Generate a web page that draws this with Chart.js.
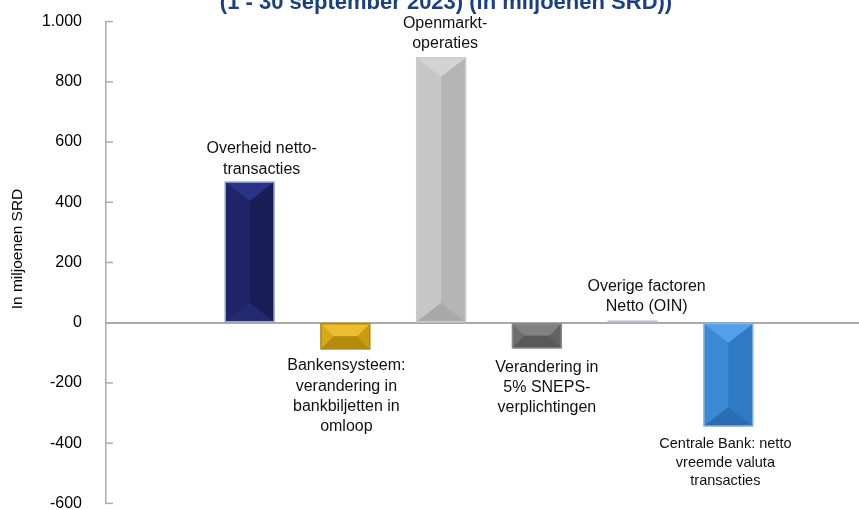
<!DOCTYPE html>
<html>
<head>
<meta charset="utf-8">
<script src="https://cdn.jsdelivr.net/npm/chart.js@4.4.0/dist/chart.umd.min.js"></script>
<style>
  body { margin: 0; background: #fff; }
  #wrap { position: relative; width: 859px; height: 510px; overflow: hidden; }
  #chart { position: absolute; left: 0; top: -12px; }
</style>
</head>
<body>
<div id="wrap"><canvas id="chart" width="872" height="549"></canvas></div>
<script>
// data (first and last slot are empty categories)
const categories = [
  [],
  ["Overheid netto-", "transacties"],
  ["Bankensysteem:", "verandering in", "bankbiljetten in", "omloop"],
  ["Openmarkt-", "operaties"],
  ["Verandering in", "5% SNEPS-", "verplichtingen"],
  ["Overige factoren", "Netto (OIN)"],
  ["Centrale Bank: netto", "vreemde valuta", "transacties"],
  []
];
const values = [null, 467, -87, 880, -84, 5, -343, null];
const yTicks = [-600, -400, -200, 0, 200, 400, 600, 800, 1000];
const yTickLabels = ["-600", "-400", "-200", "0", "200", "400", "600", "800", "1.000"];
const titleText = "(1 - 30 september 2023) (in miljoenen SRD))";
const yAxisTitle = "In miljoenen SRD";

// canvas sits 12px above the page top
const SHIFT = 12;

// bevel colours for each bar
const barStyles = [
  null,
  { top: "#2b3384", left: "#1f2569", right: "#181d57", bottom: "#232a70", edge: "#9aa2c4" },
  { top: "#ecbd2c", left: "#d6a91b", right: "#c99c14", bottom: "#b58b0e", edge: "#b08a12" },
  { top: "#d3d3d3", left: "#c6c6c6", right: "#b5b5b5", bottom: "#a9a9a9", edge: "#cbcbcb" },
  { top: "#828282", left: "#6d6d6d", right: "#636363", bottom: "#595959", edge: "#8a8a8a" },
  { top: "#b9c4d1", left: "#b9c4d1", right: "#b9c4d1", bottom: "#b9c4d1", edge: "#b9c4d1" },
  { top: "#53a1ea", left: "#3b88d4", right: "#3079c3", bottom: "#2b6db4", edge: "#80b0e0" },
  null
];

// where each text block sits relative to its bar (dx from bar centre, gap from bar end)
const labelPlace = [
  null,
  { dx: 12, gap: 13, lh: 20.5, size: 16 },
  { dx: 1, gap: 17, lh: 20.3, size: 16 },
  { dx: 4, gap: 14, lh: 20.5, size: 16 },
  { dx: 10, gap: 20, lh: 20, size: 16 },
  { dx: 14, gap: 15, lh: 20, size: 16 },
  { dx: -3, gap: 18, lh: 18.5, size: 14.5 },
  null
];

const FONT = "'Liberation Sans', Arial, sans-serif";

function face(ctx, pts, color) {
  ctx.beginPath();
  ctx.moveTo(pts[0][0], pts[0][1]);
  for (let k = 1; k < pts.length; k++) ctx.lineTo(pts[k][0], pts[k][1]);
  ctx.closePath();
  ctx.fillStyle = color;
  ctx.fill();
}

const bevelPlugin = {
  id: "bevel",
  afterDatasetsDraw(chart) {
    const ctx = chart.ctx;
    const meta = chart.getDatasetMeta(0);
    meta.data.forEach((bar, i) => {
      const s = barStyles[i];
      if (!s || values[i] == null) return;
      const p = bar.getProps(["x", "y", "base", "width"], true);
      const l = p.x - p.width / 2, r = p.x + p.width / 2;
      const t = Math.min(p.y, p.base), b = Math.max(p.y, p.base);
      const h = b - t;
      ctx.save();
      if (h > 6) {
        const dv = Math.min(19, h / 2);
        const dh = h > 40 ? p.width / 2 : dv;
        face(ctx, [[l, t], [l + dh, t + dv], [l + dh, b - dv], [l, b]], s.left);
        face(ctx, [[r, t], [r - dh, t + dv], [r - dh, b - dv], [r, b]], s.right);
        if (dh < p.width / 2) {
          face(ctx, [[l + dh, t + dv], [r - dh, t + dv], [r - dh, b - dv], [l + dh, b - dv]], s.left);
        }
        face(ctx, [[l, t], [r, t], [r - dh, t + dv], [l + dh, t + dv]], s.top);
        face(ctx, [[l, b], [r, b], [r - dh, b - dv], [l + dh, b - dv]], s.bottom);
      }
      ctx.strokeStyle = s.edge;
      ctx.lineWidth = 1.5;
      ctx.strokeRect(l, t, r - l, b - t);
      ctx.restore();
    });
  }
};

const textPlugin = {
  id: "texts",
  afterDraw(chart) {
    const ctx = chart.ctx;
    const y = chart.scales.y;
    const area = chart.chartArea;
    ctx.save();

    // little tick marks on the inside of the axis
    ctx.strokeStyle = "#acacac";
    ctx.lineWidth = 1.5;
    yTicks.forEach(v => {
      const py = y.getPixelForValue(v);
      ctx.beginPath();
      ctx.moveTo(area.left, py);
      ctx.lineTo(area.left + 7, py);
      ctx.stroke();
    });

    // title, cut off at the top like in the source
    ctx.fillStyle = "#1b3f86";
    ctx.font = "bold 22px " + FONT;
    ctx.textAlign = "center";
    ctx.textBaseline = "alphabetic";
    ctx.fillText(titleText, 446, 9 + SHIFT);

    // y axis title
    ctx.save();
    ctx.translate(18, 249 + SHIFT);
    ctx.rotate(-Math.PI / 2);
    ctx.fillStyle = "#000";
    ctx.font = "15.5px " + FONT;
    ctx.textBaseline = "middle";
    ctx.fillText(yAxisTitle, 0, 0);
    ctx.restore();

    // bar labels
    const meta = chart.getDatasetMeta(0);
    ctx.fillStyle = "#111";
    ctx.textAlign = "center";
    ctx.textBaseline = "middle";
    meta.data.forEach((bar, i) => {
      const lp = labelPlace[i];
      if (!lp) return;
      const lines = categories[i];
      const p = bar.getProps(["x", "y", "base"], true);
      ctx.font = lp.size + "px " + FONT;
      const cx = p.x + lp.dx;
      lines.forEach((line, k) => {
        let ly;
        if (values[i] >= 0) {
          ly = Math.min(p.y, p.base) - lp.gap - (lines.length - 1 - k) * lp.lh;
        } else {
          ly = Math.max(p.y, p.base) + lp.gap + k * lp.lh;
        }
        ctx.fillText(line, cx, ly);
      });
    });
    ctx.restore();
  }
};

new Chart(document.getElementById("chart"), {
  type: "bar",
  data: {
    labels: categories,
    datasets: [{
      data: values,
      backgroundColor: barStyles.map(s => (s ? s.left : "transparent")),
      borderWidth: 0,
      barPercentage: 0.51,
      categoryPercentage: 1
    }]
  },
  options: {
    responsive: false,
    animation: false,
    layout: { padding: 0 },
    plugins: {
      legend: { display: false },
      tooltip: { enabled: false },
      title: { display: false }
    },
    scales: {
      x: { display: false },
      y: {
        min: -600,
        max: 1000,
        afterBuildTicks: scale => { scale.ticks = yTicks.map(v => ({ value: v })); },
        afterFit: scale => { scale.width = 106; },
        ticks: {
          padding: 24,
          color: "#000",
          font: { family: FONT, size: 16 },
          callback: v => yTickLabels[yTicks.indexOf(v)]
        },
        grid: {
          drawTicks: false,
          color: c => (c.tick && c.tick.value === 0 ? "#a9a9a9" : "rgba(0,0,0,0)"),
          lineWidth: 2
        },
        border: { display: true, color: "#acacac", width: 1.5 }
      }
    }
  },
  plugins: [bevelPlugin, textPlugin]
});
</script>
</body>
</html>
